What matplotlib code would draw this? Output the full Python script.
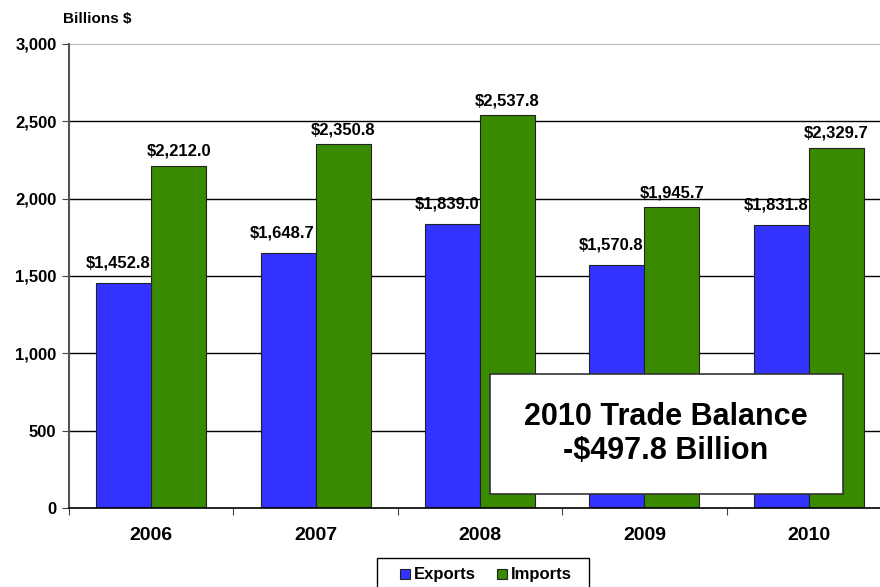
import matplotlib.pyplot as plt
from matplotlib.patches import Rectangle
import numpy as np

plt.rcParams['font.family'] = ['Liberation Sans', 'DejaVu Sans']
plt.rcParams['font.weight'] = 'bold'

years = ['2006', '2007', '2008', '2009', '2010']
exports = [1452.8, 1648.7, 1839.0, 1570.8, 1831.8]
imports = [2212.0, 2350.8, 2537.8, 1945.7, 2329.7]
yticks = [0, 500, 1000, 1500, 2000, 2500, 3000]

blue = '#3333ff'
green = '#3a8a00'

fig = plt.figure(figsize=(8.8, 5.87), dpi=100)
ax = fig.add_axes([69/880, 1-508/587, 1-69/880, (508-44)/587])

x = np.arange(len(years))
w = 0.335
ax.bar(x - w/2, exports, w, color=blue, edgecolor='#222222', linewidth=0.8, zorder=2, label='Exports')
ax.bar(x + w/2, imports, w, color=green, edgecolor='#222222', linewidth=0.8, zorder=4, label='Imports')

for i in range(len(years)):
    ax.annotate('${:,.1f}'.format(exports[i]), (x[i] - w/2, exports[i]), xytext=(-4, 9),
                textcoords='offset points', ha='center', va='bottom', fontsize=12,
                fontweight='bold', zorder=3)
    ax.annotate('${:,.1f}'.format(imports[i]), (x[i] + w/2, imports[i]), xytext=(0, 5),
                textcoords='offset points', ha='center', va='bottom', fontsize=12,
                fontweight='bold', zorder=5)

ax.set_yticks(yticks)
ax.set_yticklabels(['{:,}'.format(v) for v in yticks], fontsize=12, fontweight='bold')
for v in yticks[1:-1]:
    ax.axhline(v, color='black', linewidth=1, zorder=1)
ax.axhline(3000, color='#aaaaaa', linewidth=1.2, zorder=1)

ax.set_xticks(np.arange(-0.5, 4, 1), minor=False)
ax.set_xticklabels([])
ax.set_xticks(x, minor=True)
ax.set_xticklabels(years, minor=True, fontsize=14, fontweight='bold')
ax.tick_params(axis='x', which='minor', length=0, pad=14)
ax.tick_params(axis='x', which='major', length=5, color='#444444')
ax.tick_params(axis='y', length=5, color='#444444', pad=4)

ax.set_xlim(-0.5, (880-69)/164.4 - 0.5)
ax.set_ylim(0, 3000)

for s in ['top', 'right']:
    ax.spines[s].set_visible(False)
ax.spines['left'].set_color('#555555')
ax.spines['left'].set_linewidth(1.5)
ax.spines['bottom'].set_color('black')
ax.spines['bottom'].set_linewidth(1.2)
ax.spines['bottom'].set_zorder(6)

fig.text(63/880, 1-19/587, 'Billions $', fontsize=11, fontweight='bold', va='center', ha='left')

# text box
box = Rectangle((490/880, 1-494/587), 353/880, 120/587, transform=fig.transFigure,
                facecolor='white', edgecolor='#333333', linewidth=1.2, zorder=10)
fig.patches.append(box)
fig.text(666/880, 1-434/587, '2010 Trade Balance\n-$497.8 Billion', ha='center', va='center',
         fontsize=22, fontweight='bold', linespacing=1.15, zorder=11)

# legend, frame drawn separately (box runs off the bottom edge)
legbox = Rectangle((377/880, 1-592/587), 212/880, 34/587, transform=fig.transFigure,
                   facecolor='white', edgecolor='black', linewidth=1, zorder=1)
fig.patches.append(legbox)
leg = fig.legend(loc='center', bbox_to_anchor=(486/880, 1-575/587), ncol=2, fontsize=12,
                 frameon=False, handlelength=0.55, handleheight=0.55,
                 handletextpad=0.25, columnspacing=1.3, borderpad=0, borderaxespad=0)
for t in leg.get_texts():
    t.set_fontweight('bold')

fig.savefig('out.png', dpi=100)
